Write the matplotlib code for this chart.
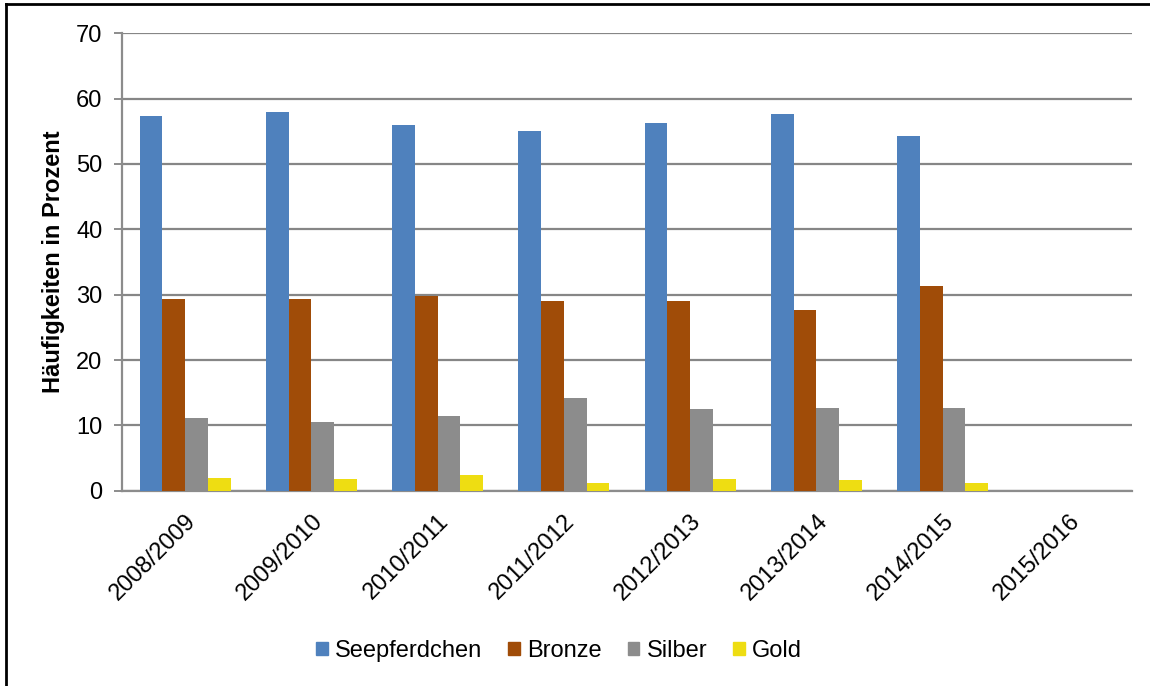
import numpy as np
import matplotlib
matplotlib.use("Agg")
import matplotlib.pyplot as plt
from matplotlib.patches import Patch
from matplotlib.lines import Line2D

plt.rcParams['font.family'] = ['Liberation Sans', 'DejaVu Sans']

# Daten
saisons = ['2008/2009', '2009/2010', '2010/2011', '2011/2012',
           '2012/2013', '2013/2014', '2014/2015', '2015/2016']
seepferdchen = [57.3, 57.9, 56.0, 55.1, 56.2, 57.7, 54.3, 0]
bronze = [29.4, 29.3, 29.8, 29.05, 29.0, 27.6, 31.3, 0]
silber = [11.1, 10.5, 11.4, 14.2, 12.5, 12.6, 12.7, 0]
gold = [1.9, 1.8, 2.4, 1.2, 1.8, 1.6, 1.2, 0]

serien = ['Seepferdchen', 'Bronze', 'Silber', 'Gold']
farben = ['#4F81BD', '#A04C08', '#8C8C8C', '#EEDD12']

fs = 17

fig = plt.figure(figsize=(11.5, 6.86), dpi=100)
ax = fig.add_axes([122/1150, 1 - 490.7/686, (1132 - 122)/1150, (490.7 - 33.3)/686])

x = np.arange(len(saisons))
breite = 0.18
for i, (werte, farbe) in enumerate(zip([seepferdchen, bronze, silber, gold], farben)):
    ax.bar(x + (i - 1.5) * breite, werte, breite, color=farbe, zorder=3)

ax.set_xlim(-0.5, len(saisons) - 0.5)
ax.set_ylim(0, 70)
ax.set_yticks(range(0, 71, 10))
ax.yaxis.grid(True, color='#868686', linewidth=1.6, zorder=0)
ax.set_axisbelow(True)

for s in ['top', 'right']:
    ax.spines[s].set_visible(False)
ax.spines['left'].set_color('#8C8C8C')
ax.spines['bottom'].set_color('#8C8C8C')
ax.spines['left'].set_linewidth(1.6)
ax.spines['bottom'].set_linewidth(1.6)

ax.tick_params(axis='y', length=6, width=1.4, color='#8C8C8C', pad=8, labelsize=fs)
ax.tick_params(axis='x', length=0, pad=14, labelsize=fs)
ax.set_xticks(x)
ax.set_xticklabels(saisons, rotation=45, ha='right', va='top', rotation_mode='anchor')

ax.set_ylabel('Häufigkeiten in Prozent', fontsize=fs, fontweight='bold', labelpad=8)

handles = [Patch(color=f, label=s) for s, f in zip(serien, farben)]
fig.legend(handles=handles, loc='center', bbox_to_anchor=(559/1150, 1 - 651/686),
           ncol=4, frameon=False, fontsize=fs, handlelength=0.5, handleheight=0.5,
           handletextpad=0.3, columnspacing=1.1)

# Rahmen oben und links
fig.add_artist(Line2D([6/1150, 6/1150], [0, 1 - 4/686], color='black', linewidth=2,
                      transform=fig.transFigure))
fig.add_artist(Line2D([6/1150, 1], [1 - 4/686, 1 - 4/686], color='black', linewidth=2,
                      transform=fig.transFigure))

fig.savefig('out.png', dpi=100)
